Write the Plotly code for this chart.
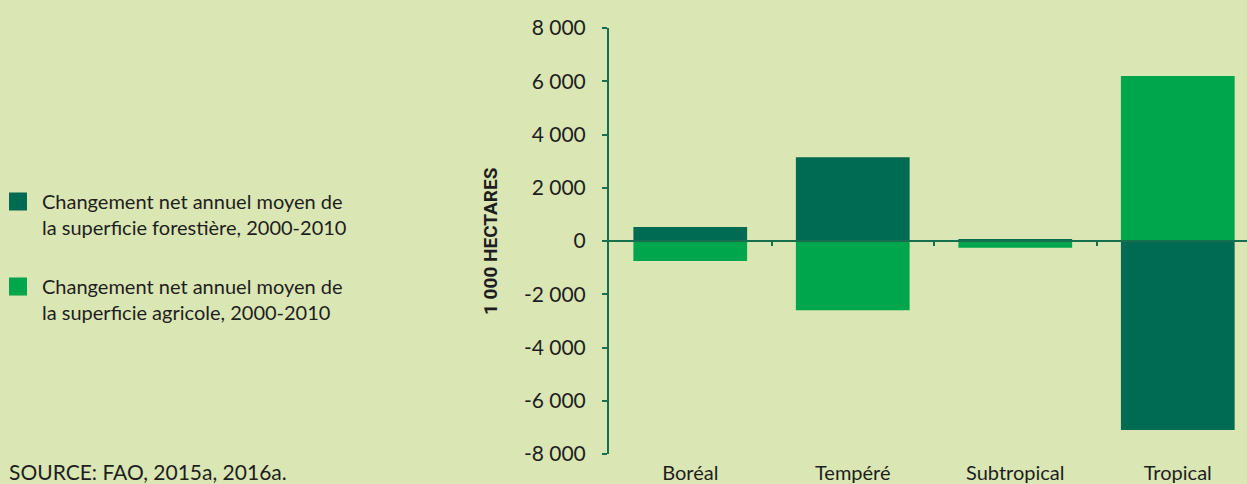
import plotly.graph_objects as go

categories = ["Boréal", "Tempéré", "Subtropical", "Tropical"]
forest_change = [525, 3150, 75, -7100]
agri_change = [-750, -2600, -250, 6200]
forest_name = "Changement net annuel moyen de<br>la superficie forestière, 2000-2010"
agri_name = "Changement net annuel moyen de<br>la superficie agricole, 2000-2010"
y_tickvals = [-8000, -6000, -4000, -2000, 0, 2000, 4000, 6000, 8000]
y_ticktext = ["-8 000", "-6 000", "-4 000", "-2 000", "0", "2 000", "4 000", "6 000", "8 000"]
boundary_ticks = [0.5, 1.5, 2.5]

DARK = "#006b53"
LIGHT = "#00a64b"
BG = "#dae6b3"
AXIS = "#16704f"
TXT = "#1e1e1e"
FONT = "Lato"
FS = 20

xpos = list(range(len(categories)))

fig = go.Figure()
fig.add_trace(go.Bar(x=xpos, y=forest_change, width=0.7, marker=dict(color=DARK, line=dict(width=0)),
                     showlegend=False, legendgroup="f", name=forest_name))
fig.add_trace(go.Bar(x=xpos, y=agri_change, width=0.7, marker=dict(color=LIGHT, line=dict(width=0)),
                     showlegend=False, legendgroup="a", name=agri_name, xaxis="x2"))
# legend proxies
fig.add_trace(go.Scatter(x=[None], y=[None], mode="markers", name=forest_name, legendgroup="f",
                         marker=dict(symbol="square", size=16, color=DARK, line=dict(color=DARK, width=2))))
fig.add_trace(go.Scatter(x=[None], y=[None], mode="markers", name=agri_name, legendgroup="a",
                         marker=dict(symbol="square", size=16, color=LIGHT, line=dict(color=LIGHT, width=2))))

xr = [-0.5, 3.426]
fig.update_layout(
    width=1247, height=484,
    margin=dict(l=609, r=0, t=28, b=30, autoexpand=False),
    paper_bgcolor=BG, plot_bgcolor=BG,
    barmode="overlay",
    font=dict(family=FONT, color=TXT, size=FS),
    xaxis=dict(range=xr, tickvals=xpos, ticktext=categories, showline=False, showgrid=False,
               zeroline=False, ticks="", tickfont=dict(size=FS, color=TXT), ticklabelstandoff=5),
    xaxis2=dict(range=xr, overlaying="x", anchor="free", position=0.5, showline=True,
                linecolor=AXIS, linewidth=2, ticks="outside", tickvals=boundary_ticks,
                ticklen=4, tickwidth=1.5, tickcolor=AXIS, showticklabels=False,
                showgrid=False, zeroline=False),
    yaxis=dict(range=[-8000, 8000], tickvals=y_tickvals, ticktext=y_ticktext, showline=True,
               linecolor=AXIS, linewidth=2, ticks="outside", ticklen=5, tickwidth=1.5,
               tickcolor=AXIS, showgrid=False, zeroline=False,
               tickfont=dict(size=21, color=TXT), ticklabelstandoff=12),
    legend=dict(xref="paper", yref="container", x=(-6 - 609) / 638, y=1 - 182 / 484,
                xanchor="left", yanchor="top", bgcolor="rgba(0,0,0,0)", borderwidth=0,
                font=dict(size=FS, color=TXT), valign="top", tracegroupgap=30,
                traceorder="grouped", itemwidth=38),
    annotations=[
        dict(text="<b>1 000 HECTARES</b>", xref="paper", yref="paper", x=-0.1865, y=0.5,
             textangle=-90, showarrow=False, xanchor="center", yanchor="middle",
             font=dict(family="Roboto", size=19, color=TXT)),
        dict(text="SOURCE: FAO, 2015a, 2016a.", xref="paper", yref="paper", x=-0.9436, y=-0.04,
             showarrow=False, xanchor="left", yanchor="middle", font=dict(size=21, color=TXT)),
    ],
)

fig.write_html("out.html", config={"displayModeBar": False},
               post_script="document.body.style.margin='0px';")
